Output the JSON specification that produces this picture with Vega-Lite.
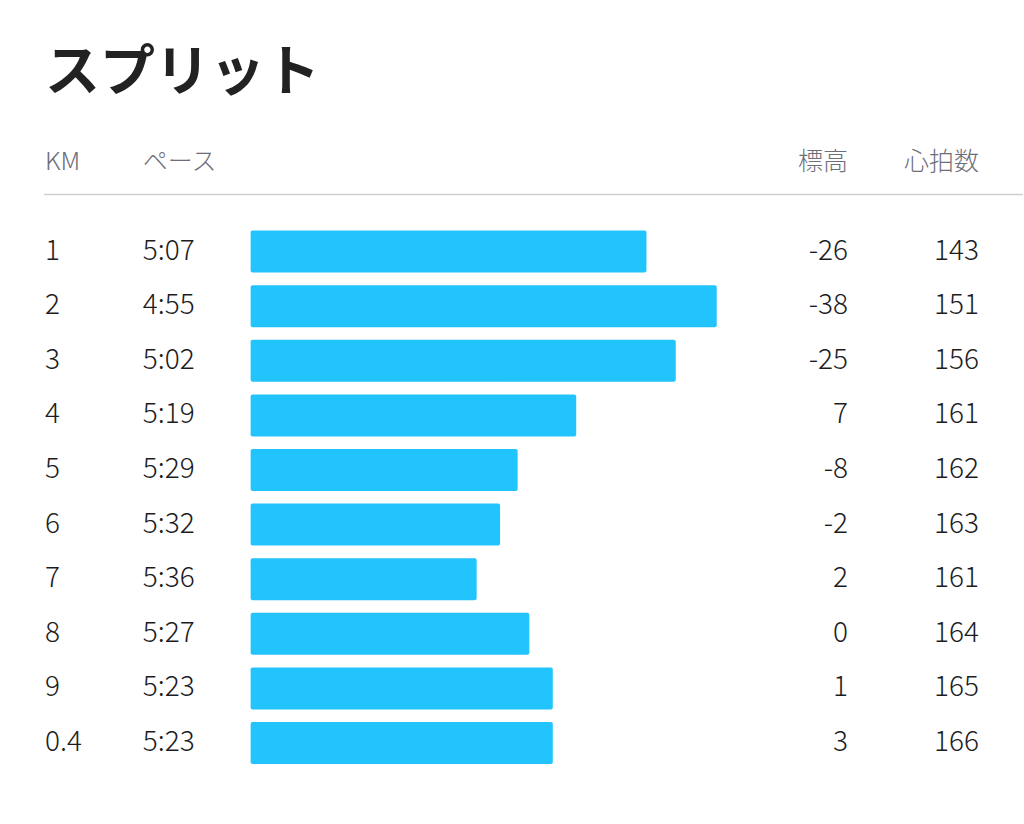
{
  "$schema": "https://vega.github.io/schema/vega-lite/v6.json",
  "width": 1024,
  "height": 824,
  "autosize": {"type": "fit", "contains": "padding"},
  "padding": {"top": 46, "left": 0, "right": 0, "bottom": 0},
  "background": "white",
  "config": {"view": {"stroke": null}, "font": "Noto Sans CJK JP"},
  "title": {"text": "スプリット", "anchor": "start", "fontSize": 55, "fontWeight": "bold", "color": "#222222", "dx": 45, "offset": 10, "font": "Noto Sans CJK JP"},
  "data": {"values": [
    {"row": 1, "km": "1", "pace": "5:07", "pace_s": 307, "elev": -26, "hr": 143},
    {"row": 2, "km": "2", "pace": "4:55", "pace_s": 295, "elev": -38, "hr": 151},
    {"row": 3, "km": "3", "pace": "5:02", "pace_s": 302, "elev": -25, "hr": 156},
    {"row": 4, "km": "4", "pace": "5:19", "pace_s": 319, "elev": 7, "hr": 161},
    {"row": 5, "km": "5", "pace": "5:29", "pace_s": 329, "elev": -8, "hr": 162},
    {"row": 6, "km": "6", "pace": "5:32", "pace_s": 332, "elev": -2, "hr": 163},
    {"row": 7, "km": "7", "pace": "5:36", "pace_s": 336, "elev": 2, "hr": 161},
    {"row": 8, "km": "8", "pace": "5:27", "pace_s": 327, "elev": 0, "hr": 164},
    {"row": 9, "km": "9", "pace": "5:23", "pace_s": 323, "elev": 1, "hr": 165},
    {"row": 10, "km": "0.4", "pace": "5:23", "pace_s": 323, "elev": 3, "hr": 166}
  ]},
  "resolve": {"scale": {"x": "independent"}},
  "layer": [
    {
      "mark": {"type": "bar", "height": 42, "color": "#22c4fd", "cornerRadius": 2},
      "encoding": {
        "x": {"field": "pace_s", "type": "quantitative", "scale": {"domain": [417.4, 242.7], "nice": false, "zero": false}, "axis": null},
        "x2": {"datum": 374.6},
        "y": {"field": "row", "type": "quantitative", "scale": {"domain": [-1.464, 11.391], "reverse": true, "nice": false, "zero": false}, "axis": null}
      }
    },
    {
      "layer": [
        {
          "mark": {"type": "text", "align": "left", "baseline": "middle", "fontSize": 28, "fontWeight": 300, "color": "#1c1c1e"},
          "encoding": {
            "x": {"datum": 4.4, "type": "quantitative", "scale": {"domain": [0, 100], "nice": false, "zero": false}, "axis": null},
            "y": {"field": "row", "type": "quantitative"},
            "text": {"field": "km", "type": "nominal"}
          }
        },
        {
          "mark": {"type": "text", "align": "left", "baseline": "middle", "fontSize": 28, "fontWeight": 300, "color": "#1c1c1e"},
          "encoding": {
            "x": {"datum": 13.96, "type": "quantitative"},
            "y": {"field": "row", "type": "quantitative"},
            "text": {"field": "pace", "type": "nominal"}
          }
        },
        {
          "mark": {"type": "text", "align": "right", "baseline": "middle", "fontSize": 28, "fontWeight": 300, "color": "#1c1c1e"},
          "encoding": {
            "x": {"datum": 82.9, "type": "quantitative"},
            "y": {"field": "row", "type": "quantitative"},
            "text": {"field": "elev", "type": "nominal"}
          }
        },
        {
          "mark": {"type": "text", "align": "right", "baseline": "middle", "fontSize": 28, "fontWeight": 300, "color": "#1c1c1e"},
          "encoding": {
            "x": {"datum": 95.7, "type": "quantitative"},
            "y": {"field": "row", "type": "quantitative"},
            "text": {"field": "hr", "type": "nominal"}
          }
        },
        {
          "data": {"values": [{"label": "KM"}]},
          "mark": {"type": "text", "align": "left", "baseline": "middle", "fontSize": 25, "fontWeight": 300, "color": "#6e6e78"},
          "encoding": {
            "x": {"datum": 4.4, "type": "quantitative"},
            "y": {"datum": -0.646, "type": "quantitative"},
            "text": {"field": "label", "type": "nominal"}
          }
        },
        {
          "data": {"values": [{"label": "ペース"}]},
          "mark": {"type": "text", "align": "left", "baseline": "middle", "fontSize": 25, "fontWeight": 300, "color": "#6e6e78"},
          "encoding": {
            "x": {"datum": 13.96, "type": "quantitative"},
            "y": {"datum": -0.646, "type": "quantitative"},
            "text": {"field": "label", "type": "nominal"}
          }
        },
        {
          "data": {"values": [{"label": "標高"}]},
          "mark": {"type": "text", "align": "right", "baseline": "middle", "fontSize": 25, "fontWeight": 300, "color": "#6e6e78"},
          "encoding": {
            "x": {"datum": 82.9, "type": "quantitative"},
            "y": {"datum": -0.646, "type": "quantitative"},
            "text": {"field": "label", "type": "nominal"}
          }
        },
        {
          "data": {"values": [{"label": "心拍数"}]},
          "mark": {"type": "text", "align": "right", "baseline": "middle", "fontSize": 25, "fontWeight": 300, "color": "#6e6e78"},
          "encoding": {
            "x": {"datum": 95.7, "type": "quantitative"},
            "y": {"datum": -0.646, "type": "quantitative"},
            "text": {"field": "label", "type": "nominal"}
          }
        },
        {
          "data": {"values": [{"label": "line"}]},
          "mark": {"type": "rule", "color": "#d0d0d4", "strokeWidth": 1.5},
          "encoding": {
            "x": {"datum": 4.3, "type": "quantitative"},
            "x2": {"datum": 100},
            "y": {"datum": -0.043, "type": "quantitative"}
          }
        }
      ]
    }
  ]
}
